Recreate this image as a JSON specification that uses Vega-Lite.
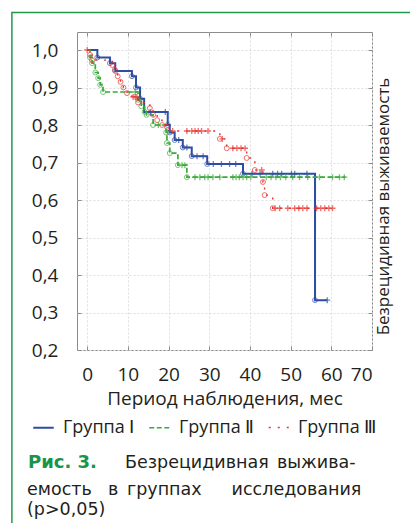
{
  "$schema": "https://vega.github.io/schema/vega-lite/v6.json",
  "width": 295,
  "height": 318,
  "autosize": {"type": "none"},
  "padding": {"left": 77, "top": 32, "right": 38, "bottom": 173},
  "background": "white",
  "datasets": {
    "steps": [
      {"group": "Группа Ⅰ", "t": 0, "s": 1.0}, {"group": "Группа Ⅰ", "t": 2.5, "s": 0.98}, {"group": "Группа Ⅰ", "t": 5.6, "s": 0.965}, {"group": "Группа Ⅰ", "t": 6.9, "s": 0.944}, {"group": "Группа Ⅰ", "t": 11, "s": 0.93}, {"group": "Группа Ⅰ", "t": 12, "s": 0.90}, {"group": "Группа Ⅰ", "t": 13, "s": 0.87}, {"group": "Группа Ⅰ", "t": 14, "s": 0.835}, {"group": "Группа Ⅰ", "t": 19.8, "s": 0.80}, {"group": "Группа Ⅰ", "t": 20.3, "s": 0.78}, {"group": "Группа Ⅰ", "t": 21.5, "s": 0.76}, {"group": "Группа Ⅰ", "t": 23.5, "s": 0.74}, {"group": "Группа Ⅰ", "t": 25.7, "s": 0.717}, {"group": "Группа Ⅰ", "t": 29.5, "s": 0.696}, {"group": "Группа Ⅰ", "t": 38.3, "s": 0.67}, {"group": "Группа Ⅰ", "t": 56, "s": 0.333}, {"group": "Группа Ⅰ", "t": 59, "s": 0.333},
      {"group": "Группа Ⅱ", "t": 0, "s": 1.0}, {"group": "Группа Ⅱ", "t": 0.7, "s": 0.98}, {"group": "Группа Ⅱ", "t": 1.2, "s": 0.965}, {"group": "Группа Ⅱ", "t": 2, "s": 0.94}, {"group": "Группа Ⅱ", "t": 2.7, "s": 0.925}, {"group": "Группа Ⅱ", "t": 3.2, "s": 0.907}, {"group": "Группа Ⅱ", "t": 3.9, "s": 0.888}, {"group": "Группа Ⅱ", "t": 12.5, "s": 0.867}, {"group": "Группа Ⅱ", "t": 13.3, "s": 0.85}, {"group": "Группа Ⅱ", "t": 14.1, "s": 0.835}, {"group": "Группа Ⅱ", "t": 14.6, "s": 0.827}, {"group": "Группа Ⅱ", "t": 16.2, "s": 0.80}, {"group": "Группа Ⅱ", "t": 19.4, "s": 0.78}, {"group": "Группа Ⅱ", "t": 19.6, "s": 0.752}, {"group": "Группа Ⅱ", "t": 20.3, "s": 0.725}, {"group": "Группа Ⅱ", "t": 22.3, "s": 0.693}, {"group": "Группа Ⅱ", "t": 24.5, "s": 0.661}, {"group": "Группа Ⅱ", "t": 63.5, "s": 0.661},
      {"group": "Группа Ⅲ", "t": 0, "s": 1.0}, {"group": "Группа Ⅲ", "t": 0.7, "s": 0.987}, {"group": "Группа Ⅲ", "t": 1.2, "s": 0.973}, {"group": "Группа Ⅲ", "t": 6.2, "s": 0.96}, {"group": "Группа Ⅲ", "t": 6.8, "s": 0.947}, {"group": "Группа Ⅲ", "t": 7.5, "s": 0.93}, {"group": "Группа Ⅲ", "t": 8.2, "s": 0.915}, {"group": "Группа Ⅲ", "t": 8.9, "s": 0.90}, {"group": "Группа Ⅲ", "t": 9.8, "s": 0.885}, {"group": "Группа Ⅲ", "t": 11, "s": 0.875}, {"group": "Группа Ⅲ", "t": 12.5, "s": 0.86}, {"group": "Группа Ⅲ", "t": 15.4, "s": 0.845}, {"group": "Группа Ⅲ", "t": 16.2, "s": 0.827}, {"group": "Группа Ⅲ", "t": 17.2, "s": 0.813}, {"group": "Группа Ⅲ", "t": 18.4, "s": 0.80}, {"group": "Группа Ⅲ", "t": 19.6, "s": 0.795}, {"group": "Группа Ⅲ", "t": 20, "s": 0.784}, {"group": "Группа Ⅲ", "t": 32.6, "s": 0.763}, {"group": "Группа Ⅲ", "t": 34.3, "s": 0.738}, {"group": "Группа Ⅲ", "t": 39.2, "s": 0.712}, {"group": "Группа Ⅲ", "t": 41.2, "s": 0.68}, {"group": "Группа Ⅲ", "t": 43.2, "s": 0.648}, {"group": "Группа Ⅲ", "t": 43.6, "s": 0.613}, {"group": "Группа Ⅲ", "t": 45.6, "s": 0.578}, {"group": "Группа Ⅲ", "t": 60.3, "s": 0.578}
    ],
    "events": [
      {"group": "Группа Ⅰ", "t": 2.5, "s": 0.98}, {"group": "Группа Ⅰ", "t": 5.6, "s": 0.965}, {"group": "Группа Ⅰ", "t": 6.9, "s": 0.944}, {"group": "Группа Ⅰ", "t": 11, "s": 0.93}, {"group": "Группа Ⅰ", "t": 12, "s": 0.90}, {"group": "Группа Ⅰ", "t": 13, "s": 0.87}, {"group": "Группа Ⅰ", "t": 19.8, "s": 0.80}, {"group": "Группа Ⅰ", "t": 20.3, "s": 0.78}, {"group": "Группа Ⅰ", "t": 21.5, "s": 0.76}, {"group": "Группа Ⅰ", "t": 23.5, "s": 0.74}, {"group": "Группа Ⅰ", "t": 25.7, "s": 0.717}, {"group": "Группа Ⅰ", "t": 29.5, "s": 0.696}, {"group": "Группа Ⅰ", "t": 38.3, "s": 0.67}, {"group": "Группа Ⅰ", "t": 56, "s": 0.333},
      {"group": "Группа Ⅱ", "t": 0.7, "s": 0.98}, {"group": "Группа Ⅱ", "t": 1.2, "s": 0.965}, {"group": "Группа Ⅱ", "t": 2, "s": 0.94}, {"group": "Группа Ⅱ", "t": 2.7, "s": 0.925}, {"group": "Группа Ⅱ", "t": 3.2, "s": 0.907}, {"group": "Группа Ⅱ", "t": 3.9, "s": 0.888}, {"group": "Группа Ⅱ", "t": 12.5, "s": 0.867}, {"group": "Группа Ⅱ", "t": 13.3, "s": 0.85}, {"group": "Группа Ⅱ", "t": 14.1, "s": 0.835}, {"group": "Группа Ⅱ", "t": 14.6, "s": 0.827}, {"group": "Группа Ⅱ", "t": 16.2, "s": 0.80}, {"group": "Группа Ⅱ", "t": 19.4, "s": 0.78}, {"group": "Группа Ⅱ", "t": 19.6, "s": 0.752}, {"group": "Группа Ⅱ", "t": 20.3, "s": 0.725}, {"group": "Группа Ⅱ", "t": 22.3, "s": 0.693}, {"group": "Группа Ⅱ", "t": 24.5, "s": 0.661},
      {"group": "Группа Ⅲ", "t": 0.7, "s": 0.987}, {"group": "Группа Ⅲ", "t": 1.2, "s": 0.973}, {"group": "Группа Ⅲ", "t": 6.2, "s": 0.96}, {"group": "Группа Ⅲ", "t": 6.8, "s": 0.947}, {"group": "Группа Ⅲ", "t": 7.5, "s": 0.93}, {"group": "Группа Ⅲ", "t": 8.2, "s": 0.915}, {"group": "Группа Ⅲ", "t": 8.9, "s": 0.90}, {"group": "Группа Ⅲ", "t": 9.8, "s": 0.885}, {"group": "Группа Ⅲ", "t": 12.5, "s": 0.86}, {"group": "Группа Ⅲ", "t": 15.4, "s": 0.845}, {"group": "Группа Ⅲ", "t": 16.2, "s": 0.827}, {"group": "Группа Ⅲ", "t": 17.2, "s": 0.813}, {"group": "Группа Ⅲ", "t": 18.4, "s": 0.80}, {"group": "Группа Ⅲ", "t": 19.6, "s": 0.795}, {"group": "Группа Ⅲ", "t": 32.6, "s": 0.763}, {"group": "Группа Ⅲ", "t": 34.3, "s": 0.738}, {"group": "Группа Ⅲ", "t": 39.2, "s": 0.712}, {"group": "Группа Ⅲ", "t": 41.2, "s": 0.68}, {"group": "Группа Ⅲ", "t": 43.2, "s": 0.648}, {"group": "Группа Ⅲ", "t": 43.6, "s": 0.613}, {"group": "Группа Ⅲ", "t": 45.6, "s": 0.578}
    ],
    "censors": [
      {"group": "Группа Ⅰ", "t": 15.5, "s": 0.835}, {"group": "Группа Ⅰ", "t": 19.2, "s": 0.835}, {"group": "Группа Ⅰ", "t": 22.5, "s": 0.76}, {"group": "Группа Ⅰ", "t": 24.5, "s": 0.74}, {"group": "Группа Ⅰ", "t": 27, "s": 0.717}, {"group": "Группа Ⅰ", "t": 28.5, "s": 0.717}, {"group": "Группа Ⅰ", "t": 31, "s": 0.696}, {"group": "Группа Ⅰ", "t": 33, "s": 0.696}, {"group": "Группа Ⅰ", "t": 35, "s": 0.696}, {"group": "Группа Ⅰ", "t": 36.5, "s": 0.696}, {"group": "Группа Ⅰ", "t": 40.5, "s": 0.67}, {"group": "Группа Ⅰ", "t": 42.5, "s": 0.67}, {"group": "Группа Ⅰ", "t": 45.6, "s": 0.67}, {"group": "Группа Ⅰ", "t": 46.8, "s": 0.67}, {"group": "Группа Ⅰ", "t": 47.8, "s": 0.67}, {"group": "Группа Ⅰ", "t": 50.2, "s": 0.67}, {"group": "Группа Ⅰ", "t": 51, "s": 0.67}, {"group": "Группа Ⅰ", "t": 54, "s": 0.67}, {"group": "Группа Ⅰ", "t": 59, "s": 0.333},
      {"group": "Группа Ⅱ", "t": 11.8, "s": 0.888}, {"group": "Группа Ⅱ", "t": 17.5, "s": 0.80}, {"group": "Группа Ⅱ", "t": 23.3, "s": 0.693}, {"group": "Группа Ⅱ", "t": 24, "s": 0.693}, {"group": "Группа Ⅱ", "t": 26.5, "s": 0.661}, {"group": "Группа Ⅱ", "t": 27.7, "s": 0.661}, {"group": "Группа Ⅱ", "t": 28.9, "s": 0.661}, {"group": "Группа Ⅱ", "t": 29.7, "s": 0.661}, {"group": "Группа Ⅱ", "t": 30.9, "s": 0.661}, {"group": "Группа Ⅱ", "t": 32.6, "s": 0.661}, {"group": "Группа Ⅱ", "t": 35.8, "s": 0.661}, {"group": "Группа Ⅱ", "t": 36.6, "s": 0.661}, {"group": "Группа Ⅱ", "t": 37.4, "s": 0.661}, {"group": "Группа Ⅱ", "t": 38.3, "s": 0.661}, {"group": "Группа Ⅱ", "t": 39.2, "s": 0.661}, {"group": "Группа Ⅱ", "t": 40.2, "s": 0.661}, {"group": "Группа Ⅱ", "t": 44, "s": 0.661}, {"group": "Группа Ⅱ", "t": 45.2, "s": 0.661}, {"group": "Группа Ⅱ", "t": 46.4, "s": 0.661}, {"group": "Группа Ⅱ", "t": 47.5, "s": 0.661}, {"group": "Группа Ⅱ", "t": 48.8, "s": 0.661}, {"group": "Группа Ⅱ", "t": 50.5, "s": 0.661}, {"group": "Группа Ⅱ", "t": 52.2, "s": 0.661}, {"group": "Группа Ⅱ", "t": 54.2, "s": 0.661}, {"group": "Группа Ⅱ", "t": 57.1, "s": 0.661}, {"group": "Группа Ⅱ", "t": 60.3, "s": 0.661}, {"group": "Группа Ⅱ", "t": 62, "s": 0.661}, {"group": "Группа Ⅱ", "t": 63.2, "s": 0.661},
      {"group": "Группа Ⅲ", "t": 0, "s": 1.0}, {"group": "Группа Ⅲ", "t": 11.3, "s": 0.875}, {"group": "Группа Ⅲ", "t": 11.8, "s": 0.875}, {"group": "Группа Ⅲ", "t": 12.2, "s": 0.875}, {"group": "Группа Ⅲ", "t": 21, "s": 0.784}, {"group": "Группа Ⅲ", "t": 24.5, "s": 0.784}, {"group": "Группа Ⅲ", "t": 25.7, "s": 0.784}, {"group": "Группа Ⅲ", "t": 26.5, "s": 0.784}, {"group": "Группа Ⅲ", "t": 27.3, "s": 0.784}, {"group": "Группа Ⅲ", "t": 28.1, "s": 0.784}, {"group": "Группа Ⅲ", "t": 29.7, "s": 0.784}, {"group": "Группа Ⅲ", "t": 33.2, "s": 0.763}, {"group": "Группа Ⅲ", "t": 35.8, "s": 0.738}, {"group": "Группа Ⅲ", "t": 36.8, "s": 0.738}, {"group": "Группа Ⅲ", "t": 37.8, "s": 0.738}, {"group": "Группа Ⅲ", "t": 38.8, "s": 0.738}, {"group": "Группа Ⅲ", "t": 42.9, "s": 0.68}, {"group": "Группа Ⅲ", "t": 46.2, "s": 0.578}, {"group": "Группа Ⅲ", "t": 47.3, "s": 0.578}, {"group": "Группа Ⅲ", "t": 49.3, "s": 0.578}, {"group": "Группа Ⅲ", "t": 51, "s": 0.578}, {"group": "Группа Ⅲ", "t": 52, "s": 0.578}, {"group": "Группа Ⅲ", "t": 53, "s": 0.578}, {"group": "Группа Ⅲ", "t": 54, "s": 0.578}, {"group": "Группа Ⅲ", "t": 56.4, "s": 0.578}, {"group": "Группа Ⅲ", "t": 57.4, "s": 0.578}, {"group": "Группа Ⅲ", "t": 58.4, "s": 0.578}, {"group": "Группа Ⅲ", "t": 59.4, "s": 0.578}, {"group": "Группа Ⅲ", "t": 60.3, "s": 0.578}
    ]
  },
  "resolve": {"axis": {"x": "independent", "y": "independent"}},
  "layer": [
    {
      "data": {"values": [{}]},
      "mark": {"type": "rect", "filled": false, "stroke": "#1f9a4b", "strokeWidth": 1.5},
      "encoding": {
        "x": {"datum": -18.5, "type": "quantitative", "axis": null},
        "x2": {"datum": 90},
        "y": {"datum": 1.1, "type": "quantitative", "axis": null},
        "y2": {"datum": -0.6}
      }
    },
    {
      "data": {"name": "steps"},
      "mark": {"type": "line", "interpolate": "step-after"},
      "encoding": {
        "x": {"field": "t", "type": "quantitative", "scale": {"domain": [-2.5, 70], "nice": false, "zero": false},
              "axis": {"orient": "bottom", "values": [0, 10, 20, 30, 40, 50, 60, 70], "title": "Период наблюдения, мес", "labelPadding": 19, "titlePadding": 5, "titleFontSize": 19, "grid": true}},
        "y": {"field": "s", "type": "quantitative", "scale": {"domain": [0.2, 1.048], "nice": false, "zero": false},
              "axis": {"orient": "left", "values": [0.2, 0.3, 0.4, 0.5, 0.6, 0.7, 0.8, 0.9, 1.0], "labelExpr": "replace(format(datum.value, '.1f'), '.', ',')", "title": null, "labelPadding": 23, "grid": true}},
        "color": {"field": "group", "type": "nominal",
                  "scale": {"domain": ["Группа Ⅰ", "Группа Ⅱ", "Группа Ⅲ"], "range": ["#2e4ea3", "#3aab3a", "#e8302c"]},
                  "legend": {"title": null, "orient": "none", "legendX": -45, "legendY": 384, "direction": "horizontal"}},
        "strokeDash": {"field": "group", "type": "nominal",
                  "scale": {"domain": ["Группа Ⅰ", "Группа Ⅱ", "Группа Ⅲ"], "range": [[1, 0], [5, 2.5], [2, 7]]},
                  "legend": {"title": null, "orient": "none", "legendX": -45, "legendY": 384, "direction": "horizontal"}},
        "strokeWidth": {"field": "group", "type": "nominal",
                  "scale": {"domain": ["Группа Ⅰ", "Группа Ⅱ", "Группа Ⅲ"], "range": [2, 1.4, 1.5]}, "legend": null}
      }
    },
    {
      "data": {"name": "events"},
      "mark": {"type": "point", "shape": "circle", "filled": false, "size": 24, "strokeWidth": 1},
      "encoding": {
        "x": {"field": "t", "type": "quantitative",
              "axis": {"orient": "top", "values": [0, 10, 20, 30, 40, 50, 60, 70], "labels": false, "title": null, "grid": false}},
        "y": {"field": "s", "type": "quantitative",
              "axis": {"orient": "right", "values": [0.2, 0.3, 0.4, 0.5, 0.6, 0.7, 0.8, 0.9, 1.0], "labels": false, "grid": false, "title": "Безрецидивная выживаемость", "titleFontSize": 17, "titleAngle": 270, "titlePadding": 20, "titleY": 174}},
        "color": {"field": "group", "type": "nominal", "legend": null}
      }
    },
    {
      "data": {"name": "censors"},
      "mark": {"type": "point", "shape": "M-1,0H1M0,-1V1", "filled": false, "size": 36, "strokeWidth": 1.3},
      "encoding": {
        "x": {"field": "t", "type": "quantitative", "axis": null},
        "y": {"field": "s", "type": "quantitative", "axis": null},
        "color": {"field": "group", "type": "nominal", "legend": null}
      }
    },
    {
      "data": {"values": [{}]},
      "mark": {"type": "text", "text": "Рис. 3.", "align": "left", "baseline": "alphabetic", "font": "DejaVu Sans", "fontSize": 18, "fontWeight": "bold", "fill": "#1a9448"},
      "encoding": {"x": {"datum": -14.55, "type": "quantitative", "axis": null}, "y": {"datum": -0.1147, "type": "quantitative", "axis": null}}
    },
    {
      "data": {"values": [{}]},
      "mark": {"type": "text", "text": "Безрецидивная", "align": "left", "baseline": "alphabetic", "font": "DejaVu Sans", "fontSize": 17.5, "fill": "#231f20"},
      "encoding": {"x": {"datum": 9.29, "type": "quantitative", "axis": null}, "y": {"datum": -0.1147, "type": "quantitative", "axis": null}}
    },
    {
      "data": {"values": [{}]},
      "mark": {"type": "text", "text": "выжива-", "align": "left", "baseline": "alphabetic", "font": "DejaVu Sans", "fontSize": 17.5, "fill": "#231f20"},
      "encoding": {"x": {"datum": 46.64, "type": "quantitative", "axis": null}, "y": {"datum": -0.1147, "type": "quantitative", "axis": null}}
    },
    {
      "data": {"values": [{}]},
      "mark": {"type": "text", "text": "емость", "align": "left", "baseline": "alphabetic", "font": "DejaVu Sans", "fontSize": 17.5, "fill": "#231f20"},
      "encoding": {"x": {"datum": -14.79, "type": "quantitative", "axis": null}, "y": {"datum": -0.1867, "type": "quantitative", "axis": null}}
    },
    {
      "data": {"values": [{}]},
      "mark": {"type": "text", "text": "в", "align": "left", "baseline": "alphabetic", "font": "DejaVu Sans", "fontSize": 17.5, "fill": "#231f20"},
      "encoding": {"x": {"datum": 5.11, "type": "quantitative", "axis": null}, "y": {"datum": -0.1867, "type": "quantitative", "axis": null}}
    },
    {
      "data": {"values": [{}]},
      "mark": {"type": "text", "text": "группах", "align": "left", "baseline": "alphabetic", "font": "DejaVu Sans", "fontSize": 17.5, "fill": "#231f20"},
      "encoding": {"x": {"datum": 9.78, "type": "quantitative", "axis": null}, "y": {"datum": -0.1867, "type": "quantitative", "axis": null}}
    },
    {
      "data": {"values": [{}]},
      "mark": {"type": "text", "text": "исследования", "align": "left", "baseline": "alphabetic", "font": "DejaVu Sans", "fontSize": 17.5, "fill": "#231f20"},
      "encoding": {"x": {"datum": 35.5, "type": "quantitative", "axis": null}, "y": {"datum": -0.1867, "type": "quantitative", "axis": null}}
    },
    {
      "data": {"values": [{}]},
      "mark": {"type": "text", "text": "(p>0,05)", "align": "left", "baseline": "alphabetic", "font": "DejaVu Sans", "fontSize": 17.5, "fill": "#231f20"},
      "encoding": {"x": {"datum": -14.79, "type": "quantitative", "axis": null}, "y": {"datum": -0.24, "type": "quantitative", "axis": null}}
    }
  ],
  "config": {
    "view": {"stroke": "#8c8c8c", "strokeWidth": 1},
    "axis": {
      "labelFont": "Open Sans", "labelFontSize": 19, "labelColor": "#231f20",
      "titleFont": "Open Sans", "titleFontSize": 18, "titleFontWeight": "normal", "titleColor": "#231f20",
      "domain": false, "tickColor": "#8c8c8c", "tickSize": -4,
      "gridColor": "#dddddd", "gridDash": [2, 2]
    },
    "legend": {
      "symbolType": "stroke", "symbolSize": 420, "symbolStrokeWidth": 2,
      "labelFont": "Open Sans", "labelFontSize": 18, "labelColor": "#231f20",
      "labelOffset": 8, "columnPadding": 10
    }
  }
}
